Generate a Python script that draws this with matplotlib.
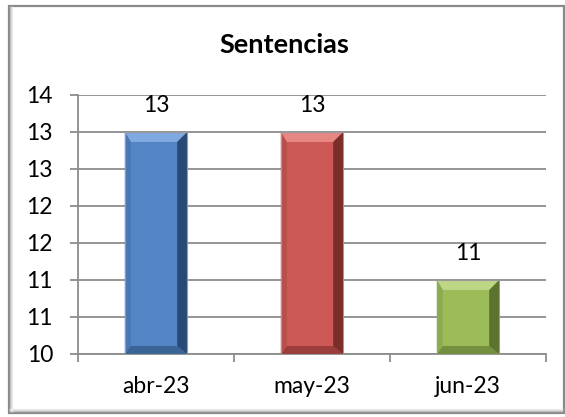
import numpy as np
import matplotlib
matplotlib.use("Agg")
import matplotlib.pyplot as plt
from matplotlib.patches import Rectangle, Polygon
from matplotlib.ticker import FuncFormatter, FixedLocator

# ---- data ----
categories = ["abr-23", "may-23", "jun-23"]
values = [13, 13, 11]
title = "Sentencias"
y_min, y_max, y_step = 10, 13.5, 0.5

# ---- styles ----
faces = ["#5384C6", "#CC5956", "#9CBC5A"]
tops = ["#7FA9E0", "#E68784", "#BDD787"]
lefts = ["#4A78B6", "#B94F4C", "#8CAB4F"]
rights = ["#294A75", "#7A2D2B", "#5C732F"]
bottoms = ["#3A6496", "#9A3D3B", "#748F3E"]

plt.rcParams['font.family'] = ['Lato', 'DejaVu Sans']
FS = 16.5

W, H = 565, 417
fig = plt.figure(figsize=(W / 100, H / 100), dpi=100)

def fx(px):
    return px / W

def fy(py):
    return 1 - py / H

frame = Rectangle((fx(8.5), fy(412.5)), fx(563.5) - fx(8.5), fy(5.5) - fy(412.5),
                  transform=fig.transFigure, facecolor="white", edgecolor="#8A8A8A",
                  linewidth=1.6, zorder=-10)
fig.add_artist(frame)
for i, c in enumerate(["#B8B8B8", "#D6D6D6", "#EBEBEB"]):
    fig.add_artist(plt.Line2D([fx(10 + i), fx(10 + i)], [fy(411), fy(7)],
                              transform=fig.transFigure, color=c, lw=1.0, zorder=-9))
    fig.add_artist(plt.Line2D([fx(10), fx(562)], [fy(411 - i), fy(411 - i)],
                              transform=fig.transFigure, color=c, lw=1.0, zorder=-9))

left_px, right_px, top_px, bot_px = 78, 546, 95, 354
ax = fig.add_axes([fx(left_px), fy(bot_px), fx(right_px) - fx(left_px), fy(top_px) - fy(bot_px)])
ax.set_facecolor("none")
ax.set_zorder(5)

x = np.arange(len(categories))
bars = ax.bar(x, values, width=0.40, color=faces, linewidth=0, zorder=3)
ax.set_xlim(-0.5, len(categories) - 0.5)
ax.set_ylim(y_min, y_max)

yt = np.arange(y_min, y_max + 1e-9, y_step)
ax.yaxis.set_major_locator(FixedLocator(yt))
ax.yaxis.set_major_formatter(FuncFormatter(lambda v, p: f"{int(np.floor(v + 0.5))}"))
ax.grid(axis="y", color="#8C8C8C", linewidth=1.3, zorder=1)
ax.set_axisbelow(True)

ax.set_xticks(x)
ax.set_xticklabels(categories)
ax.set_xticks(np.arange(-0.5, len(categories)), minor=True)
ax.tick_params(axis="x", which="major", length=0, pad=16, labelsize=FS, colors="black")
ax.tick_params(axis="x", which="minor", length=6, width=1.3, color="#8C8C8C", direction="out")
ax.tick_params(axis="y", length=6, width=1.3, color="#8C8C8C", direction="out", pad=12,
               labelsize=FS, labelcolor="black")

for s in ["top", "right"]:
    ax.spines[s].set_visible(False)
for s in ["left", "bottom"]:
    ax.spines[s].set_color("#8C8C8C")
    ax.spines[s].set_linewidth(1.3)

inv = ax.transData.inverted()
bev = 10.0
for i, b in enumerate(bars):
    x0 = b.get_x()
    x1 = x0 + b.get_width()
    y0 = max(b.get_y(), y_min)
    y1 = b.get_y() + b.get_height()
    (X0, Y0) = ax.transData.transform((x0, y0))
    (X1, Y1) = ax.transData.transform((x1, y1))
    def d(pts):
        return inv.transform(np.array(pts))
    polys = [
        (d([(X0, Y1), (X1, Y1), (X1 - bev, Y1 - bev), (X0 + bev * 0.6, Y1 - bev)]), tops[i]),
        (d([(X0, Y0), (X1, Y0), (X1 - bev, Y0 + bev * 0.8), (X0 + bev * 0.6, Y0 + bev * 0.8)]), bottoms[i]),
        (d([(X0, Y0), (X0 + bev * 0.6, Y0 + bev * 0.8), (X0 + bev * 0.6, Y1 - bev), (X0, Y1)]), lefts[i]),
        (d([(X1, Y0), (X1 - bev, Y0 + bev * 0.8), (X1 - bev, Y1 - bev), (X1, Y1)]), rights[i]),
    ]
    for pts, col in polys:
        ax.add_patch(Polygon(pts, closed=True, facecolor=col, edgecolor="none", zorder=4))
    ax.add_patch(Rectangle((x0, y0), x1 - x0, y1 - y0, facecolor="none",
                           edgecolor="#9A9A9A", linewidth=0.8, zorder=5))
    ax.annotate(f"{values[i]}", xy=(b.get_x() + b.get_width() / 2, y1), xytext=(0, 19),
                textcoords="offset points", ha="center", va="center", fontsize=FS,
                color="black", zorder=6)

fig.text(fx(284), fy(45), title, ha="center", va="center", fontsize=19.5,
         fontweight="bold", color="black")

fig.savefig("out.png", dpi=100)
